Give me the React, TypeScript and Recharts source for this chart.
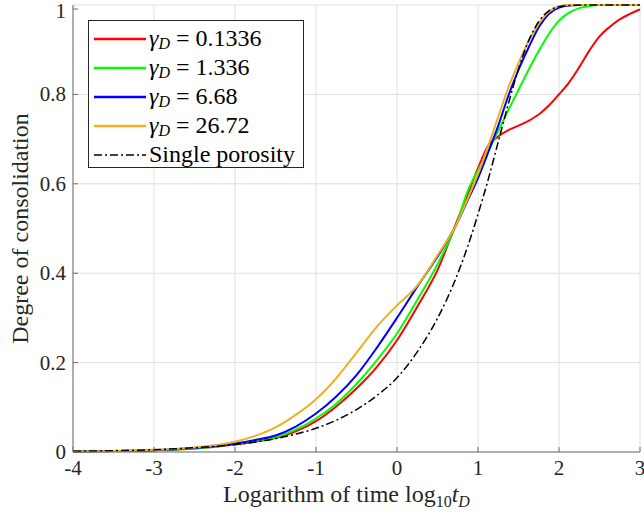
import React from 'react';
import {
  LineChart,
  Line,
  XAxis,
  YAxis,
  CartesianGrid,
  Legend,
} from 'recharts';

// log10(tD)
const logTime = [
  -4, -3.5, -3, -2.5, -2, -1.75, -1.5, -1.25, -1, -0.75, -0.5, -0.25, 0, 0.25, 0.5,
  0.75, 0.875, 1, 1.125, 1.25, 1.375, 1.5, 1.625, 1.75, 1.875, 2, 2.125, 2.25, 2.375, 2.5,
  2.625, 2.75, 2.875, 3,
];

const gamma01336 = [
  0.001, 0.002, 0.004, 0.008, 0.017, 0.023, 0.031, 0.046, 0.069, 0.102, 0.142, 0.19, 0.25, 0.325, 0.407,
  0.521, 0.577, 0.635, 0.685, 0.706, 0.72, 0.73, 0.741, 0.755, 0.775, 0.8, 0.827, 0.861, 0.898, 0.93,
  0.951, 0.968, 0.98, 0.99,
];
const gamma1336 = [
  0.001, 0.002, 0.004, 0.008, 0.018, 0.025, 0.033, 0.05, 0.075, 0.108, 0.152, 0.205, 0.265, 0.34, 0.42,
  0.518, 0.585, 0.63, 0.673, 0.718, 0.765, 0.81, 0.855, 0.897, 0.935, 0.965, 0.983, 0.993, 0.998, 1,
  1, 1, 1, 1,
];
const gamma668 = [
  0.001, 0.002, 0.004, 0.009, 0.019, 0.027, 0.037, 0.057, 0.086, 0.124, 0.172, 0.233, 0.3, 0.37, 0.437,
  0.515, 0.564, 0.613, 0.67, 0.73, 0.797, 0.855, 0.905, 0.95, 0.98, 0.994, 0.999, 1, 1, 1,
  1, 1, 1, 1,
];
const gamma2672 = [
  0.001, 0.002, 0.005, 0.01, 0.023, 0.036, 0.055, 0.083, 0.118, 0.165, 0.222, 0.28, 0.328, 0.372, 0.44,
  0.515, 0.567, 0.622, 0.684, 0.75, 0.815, 0.87, 0.92, 0.958, 0.985, 0.997, 1, 1, 1, 1,
  1, 1, 1, 1,
];
const singlePorosity = [
  0.0017, 0.003, 0.0053, 0.0095, 0.0168, 0.0224, 0.03, 0.04, 0.053, 0.071, 0.095, 0.126, 0.166, 0.224, 0.299,
  0.399, 0.461, 0.532, 0.609, 0.694, 0.779, 0.857, 0.92, 0.963, 0.987, 0.996, 0.999, 1, 1, 1,
  1, 1, 1, 1,
];

const xTicks = [-4, -3, -2, -1, 0, 1, 2, 3];
const yTicks = [0, 0.2, 0.4, 0.6, 0.8, 1];

const series = [
  { key: 'g1', gamma: '0.1336', color: '#ff0000', values: gamma01336 },
  { key: 'g2', gamma: '1.336', color: '#00ff00', values: gamma1336 },
  { key: 'g3', gamma: '6.68', color: '#0000ff', values: gamma668 },
  { key: 'g4', gamma: '26.72', color: '#edb120', values: gamma2672 },
];

const data = logTime.map((t, i) => {
  const row: Record<string, number> = { t, single: singlePorosity[i] };
  series.forEach((s) => {
    row[s.key] = s.values[i];
  });
  return row;
});

const FONT = "'Liberation Serif', 'Times New Roman', serif";
const AXIS = '#6e6e6e';
const TEXT = '#262626';
const DASHDOT = '8 3 2 3';

const BottomTick = (props: any) => {
  const { x, y, payload } = props;
  return (
    <g>
      <line x1={x} y1={y - 10} x2={x} y2={y - 15} stroke={AXIS} />
      <text x={x} y={y + 13} textAnchor="middle" fontFamily={FONT} fontSize={21} fill={TEXT}>
        {String(payload.value)}
      </text>
    </g>
  );
};

const LeftTick = (props: any) => {
  const { x, y, payload } = props;
  // the top label sits at the page edge, keep it just inside
  const base = payload.value === 1 ? y + 9 : y + 7;
  return (
    <g>
      <line x1={x + 7} y1={y} x2={x + 12} y2={y} stroke={AXIS} />
      <text x={x} y={base} textAnchor="end" fontFamily={FONT} fontSize={21} fill={TEXT}>
        {String(payload.value)}
      </text>
    </g>
  );
};

const TopTick = (props: any) => {
  const { x, y } = props;
  return <line x1={x} y1={y} x2={x} y2={y + 5} stroke={AXIS} />;
};

const RightTick = (props: any) => {
  const { x, y } = props;
  return <line x1={x} y1={y} x2={x - 5} y2={y} stroke={AXIS} />;
};

const XTitle = (props: any) => {
  const { viewBox } = props;
  const cx = viewBox.x + viewBox.width / 2 - 10;
  return (
    <text x={cx} y={viewBox.y + 50} textAnchor="middle" fontFamily={FONT} fontSize={24} fill={TEXT}>
      Logarithm of time log
      <tspan fontSize={16} dy={5}>10</tspan>
      <tspan fontStyle="italic" dy={-5}>t</tspan>
      <tspan fontStyle="italic" fontSize={16} dy={5}>D</tspan>
    </text>
  );
};

const YTitle = (props: any) => {
  const { viewBox } = props;
  const cx = viewBox.x + 20;
  const cy = viewBox.y + viewBox.height / 2;
  return (
    <text
      x={cx}
      y={cy}
      transform={`rotate(-90, ${cx}, ${cy})`}
      textAnchor="middle"
      dominantBaseline="central"
      fontFamily={FONT}
      fontSize={24}
      fill={TEXT}
    >
      Degree of consolidation
    </text>
  );
};

const LegendBox = () => {
  const row: React.CSSProperties = {
    display: 'flex',
    alignItems: 'center',
    height: 29,
  };
  return (
    <div
      style={{
        width: 216,
        height: 148,
        border: '1px solid #262626',
        background: '#fff',
        fontFamily: FONT,
        fontSize: 24,
        color: '#000',
        padding: '3px 0 0 4px',
        boxSizing: 'border-box',
      }}
    >
      {series.map((s) => (
        <div key={s.key} style={row}>
          <svg width={56} height={6} style={{ flex: 'none' }}>
            <line x1={1} y1={3} x2={53} y2={3} stroke={s.color} strokeWidth={2.5} />
          </svg>
          <span>
            <i>γ</i>
            <sub style={{ fontSize: 16, fontStyle: 'italic', verticalAlign: -3 }}>D</sub>
            {' = ' + s.gamma}
          </span>
        </div>
      ))}
      <div style={row}>
        <svg width={56} height={6} style={{ flex: 'none' }}>
          <line x1={1} y1={3} x2={53} y2={3} stroke="#000" strokeWidth={1.5} strokeDasharray={DASHDOT} />
        </svg>
        <span>Single porosity</span>
      </div>
    </div>
  );
};

export default function App() {
  return (
    <div style={{ position: 'absolute', left: 0, top: 0, width: 644, height: 518, background: '#fff' }}>
      <LineChart width={644} height={518} data={data} margin={{ top: 5, right: 4, left: 0, bottom: 0 }}>
        <CartesianGrid stroke="#e0e0e0" />
        <XAxis
          dataKey="t"
          type="number"
          domain={[-4, 3]}
          ticks={xTicks}
          height={66}
          tickSize={0}
          tickMargin={10}
          axisLine={{ stroke: AXIS }}
          tick={BottomTick}
          label={<XTitle />}
        />
        <XAxis
          xAxisId="top"
          orientation="top"
          dataKey="t"
          type="number"
          domain={[-4, 3]}
          ticks={xTicks}
          height={0}
          tickSize={0}
          tickMargin={0}
          axisLine={{ stroke: AXIS }}
          tick={TopTick}
        />
        <YAxis
          type="number"
          domain={[0, 1]}
          ticks={yTicks}
          width={73}
          tickSize={0}
          tickMargin={7}
          axisLine={{ stroke: AXIS }}
          tick={LeftTick}
          label={<YTitle />}
        />
        <YAxis
          yAxisId="right"
          orientation="right"
          type="number"
          domain={[0, 1]}
          ticks={yTicks}
          width={0}
          tickSize={0}
          tickMargin={0}
          axisLine={{ stroke: AXIS }}
          tick={RightTick}
        />
        <Legend
          layout="vertical"
          align="center"
          verticalAlign="middle"
          content={<LegendBox />}
          wrapperStyle={{ left: 88, top: 20, width: 216, height: 148 }}
        />
        {series.map((s) => (
          <Line
            key={s.key}
            type="monotone"
            dataKey={s.key}
            stroke={s.color}
            strokeWidth={2}
            dot={false}
            isAnimationActive={false}
          />
        ))}
        <Line
          type="monotone"
          dataKey="single"
          stroke="#000"
          strokeWidth={1.5}
          strokeDasharray={DASHDOT}
          dot={false}
          isAnimationActive={false}
        />
      </LineChart>
    </div>
  );
}
